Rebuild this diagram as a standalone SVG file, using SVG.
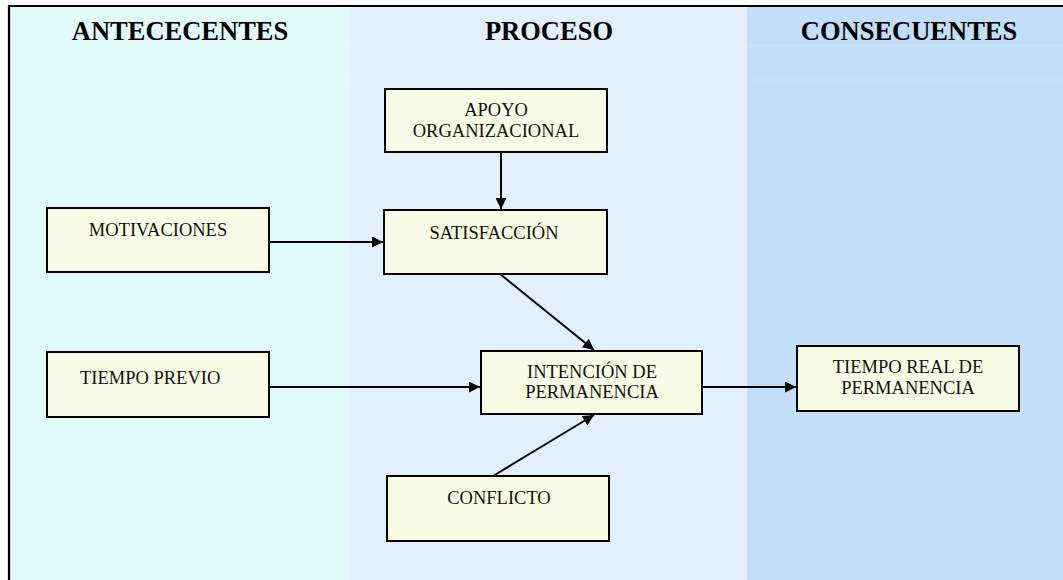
<svg xmlns="http://www.w3.org/2000/svg" width="1063" height="580" viewBox="0 0 1063 580">
  <defs>
    <style>
      .box { fill: #F8FCE4; stroke: #000; stroke-width: 2; }
      .lbl { font-family: "Liberation Serif", "Times New Roman", serif; font-size: 18.5px; fill: #111; text-anchor: middle; }
      .lbl.start { text-anchor: start; }
      .hdr { font-family: "Liberation Serif", "Times New Roman", serif; font-size: 26.5px; font-weight: bold; fill: #000; text-anchor: middle; }
      .link { stroke: #000; stroke-width: 2; fill: none; marker-end: url(#arrow); }
    </style>
    <marker id="arrow" viewBox="0 0 10 10" refX="10" refY="5" markerWidth="6" markerHeight="5.5" markerUnits="strokeWidth" orient="auto">
      <path d="M0,0 L10,5 L0,10 z" fill="#000"/>
    </marker>
  </defs>

  <!-- column bands -->
  <rect x="0" y="0" width="1063" height="580" fill="#fff"/>
  <rect x="9" y="6" width="340" height="574" fill="#E0FAFC"/>
  <rect x="349" y="6" width="398" height="574" fill="#E2F0FE"/>
  <rect x="747" y="6" width="316" height="574" fill="#C2DEF8"/>
  <!-- faint rule lines -->
  <line x1="60" y1="46" x2="1063" y2="46" stroke="#fff" stroke-opacity="0.18" stroke-width="1"/>
  <line x1="175" y1="80" x2="1063" y2="80" stroke="#fff" stroke-opacity="0.18" stroke-width="1"/>

  <!-- frame -->
  <path d="M9,580 V6 H1063" fill="none" stroke="#000" stroke-width="2.2"/>

  <!-- column headings -->
  <text class="hdr" x="180" y="40">ANTECECENTES</text>
  <text class="hdr" x="549" y="40">PROCESO</text>
  <text class="hdr" x="909" y="40">CONSECUENTES</text>

  <!-- connectors -->
  <g id="connectors">
    <line class="link" x1="501" y1="152" x2="501" y2="209"/>
    <line class="link" x1="270" y1="242" x2="383" y2="242"/>
    <line class="link" x1="500" y1="274" x2="594" y2="350"/>
    <line class="link" x1="269" y1="387" x2="480" y2="387"/>
    <line class="link" x1="493" y1="476" x2="594" y2="415"/>
    <line class="link" x1="703" y1="387" x2="796" y2="387"/>
  </g>

  <g id="apoyo">
    <rect class="box" x="385" y="89" width="222" height="63"/>
    <text class="lbl" x="496" y="116">APOYO</text>
    <text class="lbl" x="496" y="137">ORGANIZACIONAL</text>
  </g>

  <g id="motivaciones">
    <rect class="box" x="47" y="208" width="222" height="64"/>
    <text class="lbl" x="158" y="236">MOTIVACIONES</text>
  </g>

  <g id="satisfaccion">
    <rect class="box" x="384" y="210" width="223" height="64"/>
    <text class="lbl" x="494" y="239">SATISFACCIÓN</text>
  </g>

  <g id="tiempo-previo">
    <rect class="box" x="47" y="352" width="222" height="65"/>
    <text class="lbl start" x="80" y="384">TIEMPO PREVIO</text>
  </g>

  <g id="intencion">
    <rect class="box" x="481" y="351" width="221" height="63"/>
    <text class="lbl" x="592" y="378">INTENCIÓN DE</text>
    <text class="lbl" x="592" y="398">PERMANENCIA</text>
  </g>

  <g id="tiempo-real">
    <rect class="box" x="797" y="346" width="222" height="65"/>
    <text class="lbl" x="908" y="373">TIEMPO REAL DE</text>
    <text class="lbl" x="908" y="394">PERMANENCIA</text>
  </g>

  <g id="conflicto">
    <rect class="box" x="387" y="476" width="222" height="65"/>
    <text class="lbl" x="499" y="504">CONFLICTO</text>
  </g>
</svg>
